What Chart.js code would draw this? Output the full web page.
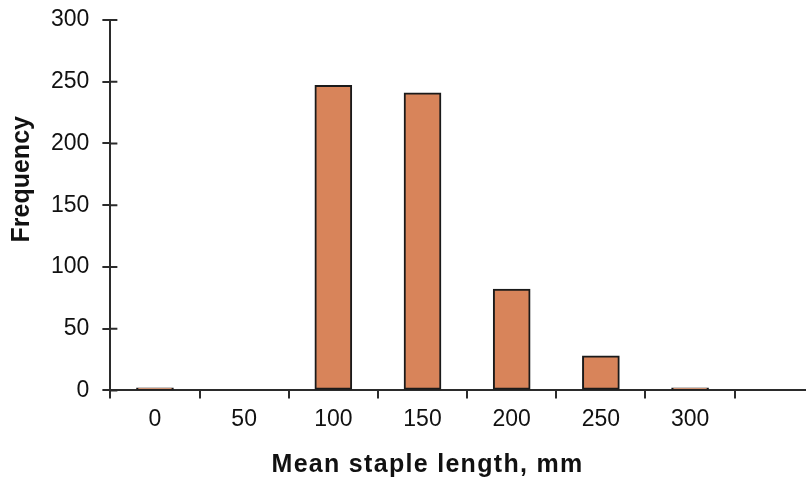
<!DOCTYPE html>
<html>
<head>
<meta charset="utf-8">
<script src="https://cdn.jsdelivr.net/npm/chart.js@4.4.1/dist/chart.umd.min.js"></script>
<style>
  html, body { margin: 0; padding: 0; background: #fff; }
  #wrap { width: 806px; height: 477px; position: relative; }
</style>
</head>
<body>
<div id="wrap"><canvas id="histChart"></canvas></div>
<script>
// histogram of mean staple length
const lengthLabels = ['0', '50', '100', '150', '200', '250', '300'];
const frequency = [2, 0, 247, 241, 82, 28, 2];
const xTitle = 'Mean staple length, mm';
const yTitle = 'Frequency';

Chart.defaults.animation = false;
Chart.defaults.font.family = '"Liberation Sans", Arial, sans-serif';
Chart.defaults.color = '#111';

const axisColor = '#2b2b2b';
const titleFont = 'bold 25px "Liberation Sans", Arial, sans-serif';

// tick marks between the classes, labels under the class centers
const xTickValues = [];
for (let i = 0; i < lengthLabels.length; i++) {
  xTickValues.push(i - 0.5, i);
}
xTickValues.push(lengthLabels.length - 0.5);

const axisExtras = {
  id: 'axisExtras',
  afterDraw(chart) {
    const { ctx, chartArea, scales: { x, y } } = chart;
    ctx.save();
    // y ticks cross the axis line
    ctx.strokeStyle = axisColor;
    ctx.lineWidth = 2;
    ctx.beginPath();
    y.ticks.forEach(t => {
      const py = y.getPixelForValue(t.value);
      ctx.moveTo(x.left, py);
      ctx.lineTo(x.left + 7, py);
    });
    ctx.stroke();

    ctx.fillStyle = '#111';
    ctx.font = titleFont;
    ctx.textAlign = 'center';

    // x title centred under the labelled classes
    const cx = (x.getPixelForValue(-0.5) + x.getPixelForValue(lengthLabels.length - 0.5)) / 2 + 5;
    ctx.letterSpacing = '1.3px';
    ctx.textBaseline = 'alphabetic';
    ctx.fillText(xTitle, cx, chartArea.bottom + 82);

    // y title, sits a bit above the middle as in the original
    ctx.letterSpacing = '0px';
    ctx.translate(22, chartArea.top + chartArea.height * 0.43);
    ctx.rotate(-Math.PI / 2);
    ctx.textBaseline = 'middle';
    ctx.fillText(yTitle, 0, 0);
    ctx.restore();
  }
};

const ctx = document.getElementById('histChart').getContext('2d');
new Chart(ctx, {
  type: 'bar',
  data: {
    datasets: [{
      label: yTitle,
      data: frequency.map((f, i) => ({ x: i, y: f })),
      backgroundColor: '#D8845A',
      borderColor: '#1a1a1a',
      borderWidth: 2,
      borderSkipped: false,
      barThickness: 37
    }]
  },
  options: {
    responsive: true,
    maintainAspectRatio: false,
    animation: false,
    layout: { padding: { top: 20, bottom: 37, left: 38, right: 0 } },
    scales: {
      x: {
        type: 'linear',
        min: -0.5,
        max: 7.3,
        offset: false,
        afterBuildTicks: scale => {
          scale.ticks = xTickValues.map(v => ({ value: v }));
        },
        ticks: {
          autoSkip: false,
          maxRotation: 0,
          padding: 7,
          font: { size: 23 },
          callback: v => Number.isInteger(v) ? (lengthLabels[v] || '') : ''
        },
        grid: {
          offset: false,
          drawOnChartArea: false,
          tickLength: 8,
          lineWidth: 2,
          color: c => (c.tick && Number.isInteger(c.tick.value)) ? 'rgba(0,0,0,0)' : axisColor
        },
        border: { color: axisColor, width: 2 }
      },
      y: {
        min: 0,
        max: 300,
        afterFit: scale => { scale.paddingTop = 0; },
        ticks: { stepSize: 50, padding: 13, font: { size: 23 } },
        grid: { drawOnChartArea: false, tickLength: 8, lineWidth: 2, color: axisColor },
        border: { color: axisColor, width: 2 }
      }
    },
    plugins: {
      legend: { display: false },
      tooltip: { enabled: false }
    }
  },
  plugins: [axisExtras]
});
</script>
</body>
</html>
